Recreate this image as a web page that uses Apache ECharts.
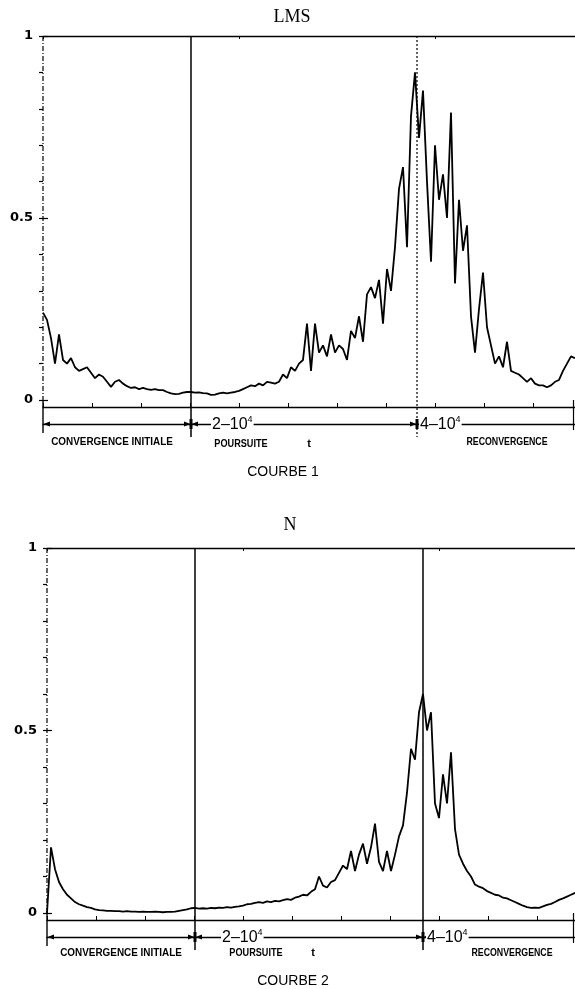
<!DOCTYPE html>
<html><head><meta charset="utf-8">
<script src="https://cdn.jsdelivr.net/npm/echarts/dist/echarts.min.js"></script>
<style>html,body{margin:0;padding:0;background:#fff}#c{width:575px;height:989px}</style>
</head><body><div id="c"></div>
<script>
// ---- data ----
// error curve, LMS algorithm (one value per sample step)
const curveLMS = [
 0.24,0.22,0.17,0.10,0.18,0.11,0.10,0.115,0.09,0.08,
 0.085,0.09,0.075,0.06,0.07,0.064,0.05,0.036,0.05,0.055,
 0.045,0.038,0.033,0.035,0.03,0.033,0.03,0.028,0.03,0.027,
 0.027,0.022,0.018,0.016,0.017,0.02,0.022,0.022,0.02,0.021,
 0.019,0.018,0.014,0.015,0.018,0.02,0.018,0.02,0.022,0.025,
 0.03,0.035,0.04,0.038,0.045,0.04,0.05,0.048,0.045,0.05,
 0.07,0.06,0.09,0.08,0.10,0.11,0.21,0.08,0.21,0.13,
 0.15,0.12,0.18,0.13,0.15,0.14,0.11,0.19,0.17,0.23,
 0.16,0.29,0.31,0.28,0.33,0.21,0.36,0.30,0.42,0.58,
 0.64,0.42,0.78,0.90,0.72,0.85,0.60,0.38,0.70,0.55,
 0.62,0.50,0.79,0.32,0.55,0.41,0.48,0.23,0.13,0.25,
 0.35,0.20,0.15,0.10,0.12,0.09,0.16,0.08,0.075,0.07,
 0.06,0.05,0.06,0.045,0.04,0.04,0.035,0.04,0.05,0.055,
 0.08,0.10,0.12,0.115
];
// error curve, N algorithm
const curveN = [
 0.0,0.18,0.12,0.085,0.065,0.05,0.04,0.03,0.024,0.02,
 0.016,0.014,0.01,0.008,0.007,0.006,0.006,0.005,0.005,0.004,
 0.005,0.004,0.004,0.003,0.004,0.003,0.003,0.004,0.003,0.002,
 0.003,0.003,0.004,0.006,0.008,0.01,0.013,0.014,0.012,0.013,
 0.012,0.014,0.013,0.015,0.014,0.016,0.015,0.017,0.018,0.02,
 0.024,0.025,0.028,0.03,0.028,0.032,0.03,0.033,0.032,0.035,
 0.038,0.036,0.042,0.045,0.05,0.048,0.058,0.065,0.10,0.075,
 0.07,0.085,0.09,0.11,0.13,0.12,0.17,0.115,0.16,0.19,
 0.135,0.18,0.245,0.14,0.115,0.17,0.115,0.16,0.21,0.24,
 0.33,0.45,0.42,0.55,0.60,0.50,0.55,0.30,0.26,0.38,
 0.30,0.44,0.23,0.16,0.135,0.115,0.10,0.078,0.072,0.068,
 0.06,0.055,0.05,0.048,0.042,0.04,0.035,0.03,0.025,0.02,
 0.016,0.014,0.015,0.014,0.018,0.022,0.025,0.03,0.036,0.04,
 0.045,0.05,0.055
];
// phase boundaries (sample index): start, 2·10^4, 4·10^4, end
const phasesLMS = [0, 37, 93.5, 133];
const phasesN = [0, 37, 94, 132];
const boundaryKindLMS = ['axis', 'solid', 'dotted', 'end'];
const boundaryKindN = ['axis', 'solid', 'solid', 'end'];
const yTickLabels = {0: '0', 0.5: '0.5', 1: '1'};
const titles = ['LMS', 'N'];
const captions = ['COURBE 1', 'COURBE 2'];
const phaseNames = ['CONVERGENCE INITIALE', 'POURSUITE', 'RECONVERGENCE'];

// ---- chart ----
const chart = echarts.init(document.getElementById('c'), null, {renderer: 'canvas'});
const ARROW_OFF = 24, EXT_OFF = 37, AXIS_EXT = 33;

function frameRenderer(kinds) {
  return function (params, api) {
    const t = api.value(0);
    const kind = kinds[params.dataIndex];
    const top = api.coord([t, 1]);
    const zero = api.coord([t, 0]);
    const x = top[0];
    const ya = zero[1] + ARROW_OFF;
    const ch = [];
    const tri = (dir) => ({type: 'polygon', shape: {points: dir > 0
      ? [[x - 7, ya - 2.5], [x - 7, ya + 2.5], [x - 0.5, ya]]
      : [[x + 7, ya - 2.5], [x + 7, ya + 2.5], [x + 0.5, ya]]}, style: {fill: '#000'}});
    if (kind === 'axis') {
      ch.push({type: 'line', shape: {x1: x, y1: top[1], x2: x, y2: zero[1]},
        style: {stroke: '#000', lineWidth: 1.2, lineDash: [5, 2, 1, 2]}});
      ch.push({type: 'line', shape: {x1: x, y1: zero[1], x2: x, y2: zero[1] + AXIS_EXT},
        style: {stroke: '#000', lineWidth: 1.4}});
      ch.push(tri(-1));
    } else if (kind === 'end') {
      ch.push({type: 'line', shape: {x1: x - 1.5, y1: zero[1], x2: x - 1.5, y2: zero[1] + AXIS_EXT - 3},
        style: {stroke: '#000', lineWidth: 1.2}});
    } else {
      ch.push({type: 'line', shape: {x1: x, y1: top[1], x2: x, y2: zero[1] + EXT_OFF},
        style: kind === 'dotted' ? {stroke: '#000', lineWidth: 1.2, lineDash: [2, 2]} : {stroke: '#000', lineWidth: 1.5}});
      ch.push(tri(1));
      ch.push(tri(-1));
      ch.push({type: 'rect', shape: {x: x - 1.5, y: ya - 5, width: 3, height: 10}, style: {fill: '#000'}});
    }
    return {type: 'group', children: ch};
  };
}

const grids = [
  {left: 43, top: 36, width: 532, height: 364, outerBoundsMode: 'none'},
  {left: 47, top: 548, width: 528, height: 365, outerBoundsMode: 'none'}
];
const curves = [curveLMS, curveN];
const phases = [phasesLMS, phasesN];
const kinds = [boundaryKindLMS, boundaryKindN];

const xAxis = [], yAxis = [], series = [];
curves.forEach((cv, gi) => {
  const base = {gridIndex: gi, type: 'value', min: 0, max: cv.length - 1, interval: 12.25,
    axisLabel: {show: false}, splitLine: {show: false}};
  xAxis.push(Object.assign({}, base, {position: 'bottom', offset: 7,
    axisLine: {onZero: false, lineStyle: {color: '#000', width: 1.3}},
    axisTick: {inside: true, length: 4, lineStyle: {color: '#000', width: 1}}}));
  xAxis.push(Object.assign({}, base, {position: 'bottom', offset: ARROW_OFF,
    axisLine: {onZero: false, lineStyle: {color: '#000', width: 1.3}}, axisTick: {show: false}}));
  xAxis.push(Object.assign({}, base, {position: 'top', interval: 49,
    axisLine: {onZero: false, lineStyle: {color: '#000', width: 1.4}},
    axisTick: {inside: true, length: 3, lineStyle: {color: '#000'}}}));
  yAxis.push({gridIndex: gi, type: 'value', min: 0, max: 1, interval: 0.5, position: 'left',
    axisLine: {show: false}, splitLine: {show: false},
    axisTick: {show: true, inside: true, length: 5, lineStyle: {color: '#000', width: 1.2}},
    axisLabel: {margin: 10, color: '#000', fontFamily: 'DejaVu Sans', fontWeight: 'bold', fontSize: 13,
      formatter: v => yTickLabels[Math.round(v * 10) / 10] || ''}});
  yAxis.push({gridIndex: gi, type: 'value', min: 0, max: 1, interval: 0.1, position: 'right',
    axisLine: {show: false}, splitLine: {show: false}, axisLabel: {show: false},
    axisTick: {show: true, inside: true, length: 4, lineStyle: {color: '#000', width: 1.2}}});
  series.push({type: 'custom', xAxisIndex: gi * 3, yAxisIndex: gi * 2, clip: false, z: 1,
    renderItem: frameRenderer(kinds[gi]), data: phases[gi].map(t => [t, 0]), silent: true});
  series.push({type: 'line', xAxisIndex: gi * 3, yAxisIndex: gi * 2, z: 3, showSymbol: false,
    lineStyle: {color: '#000', width: 1.8}, data: cv.map((v, i) => [i, v]), silent: true});
});

const ser = "'Liberation Serif', 'Times New Roman', serif";
const sans = "'Liberation Sans', Arial, sans-serif";
function txt(text, x, y, opt) {
  return Object.assign({type: 'text', x, y, style: Object.assign({text, fill: '#000', align: 'center',
    verticalAlign: 'middle', font: opt.font}, opt.style || {})}, opt.el || {});
}
function pow(base, x, y) {
  return {type: 'text', x, y, z: 10, style: {text: '{a|' + base + '}{b|4}', align: 'left', verticalAlign: 'middle',
    backgroundColor: '#fff', padding: [0, 1, 0, 1],
    rich: {a: {fontSize: 16, fontFamily: sans, fill: '#000', lineHeight: 18, verticalAlign: 'bottom'},
           b: {fontSize: 9, fontFamily: sans, fill: '#000', lineHeight: 9, verticalAlign: 'top'}}}};
}
const lab = "bold 11px 'Liberation Sans', Arial, sans-serif";
const graphic = [
  txt(titles[0], 292, 17, {font: '18px ' + ser}),
  txt(titles[1], 290, 525, {font: '18px ' + ser}),
  txt(captions[0], 283, 472, {font: '14px ' + sans}),
  txt(captions[1], 293, 981, {font: '14px ' + sans}),
  txt(phaseNames[0], 112, 442, {font: lab, el: {scaleX: 0.9}}),
  txt(phaseNames[1], 241, 444, {font: lab, el: {scaleX: 0.83}}),
  txt('t', 309, 444, {font: lab}),
  txt(phaseNames[2], 507, 442, {font: lab, el: {scaleX: 0.8}}),
  txt(phaseNames[0], 121, 953, {font: lab, el: {scaleX: 0.9}}),
  txt(phaseNames[1], 256, 953, {font: lab, el: {scaleX: 0.83}}),
  txt('t', 313, 953, {font: lab}),
  txt(phaseNames[2], 512, 953, {font: lab, el: {scaleX: 0.8}}),
  pow('2–10', 211, 424),
  pow('4–10', 419, 424),
  pow('2–10', 221, 937),
  pow('4–10', 426, 937)
];

chart.setOption({animation: false, backgroundColor: '#fff', grid: grids, xAxis, yAxis, series, graphic});
</script>
</body></html>
